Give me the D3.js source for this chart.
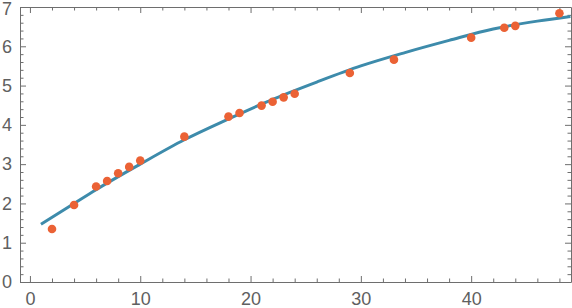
<!DOCTYPE html>
<html>
<head>
<meta charset="utf-8">
<script src="https://cdn.jsdelivr.net/npm/d3@7"></script>
<style>
  body { margin: 0; background: #fff; }
  .axis text { font-family: "Liberation Sans", Arial, sans-serif; font-size: 18px; fill: #606060; }
  .axis path, .axis line { stroke: #6e6e6e; }
</style>
</head>
<body>
<svg id="chart"></svg>
<script>
// measured points
const ptX = [2, 4, 6, 7, 8, 9, 10, 14, 18, 19, 21, 22, 23, 24, 29, 33, 40, 43, 44, 48];
const ptY = [1.35, 1.96, 2.43, 2.57, 2.77, 2.93, 3.09, 3.70, 4.21, 4.30, 4.49, 4.59, 4.70, 4.79, 5.32, 5.66, 6.22, 6.47, 6.52, 6.84];

// fitted curve
const fitX = [1, 4, 6, 10, 14, 18, 22, 26, 30, 34, 38, 42, 46, 49];
const fitY = [1.47, 2.00, 2.35, 3.00, 3.62, 4.15, 4.65, 5.09, 5.50, 5.84, 6.15, 6.44, 6.64, 6.76];

const xTicks = [0, 10, 20, 30, 40];
const yTicks = [0, 1, 2, 3, 4, 5, 6, 7];

const W = 572, H = 308;
const margin = { top: 7, right: 1, bottom: 26, left: 20 };

const svg = d3.select("#chart").attr("width", W).attr("height", H);

const x = d3.scaleLinear().domain([-0.9, 49.05]).range([margin.left, W - margin.right]);
const y = d3.scaleLinear().domain([0, 7]).range([H - margin.bottom, margin.top]);

const xMinor = d3.range(0, 49, 2).filter(v => v % 10 !== 0);
const yMinor = d3.range(0, 7.01, 0.2).map(v => +v.toFixed(1)).filter(v => v % 1 !== 0);

// frame axes: major + minor ticks all pointing inwards
function frame(axisFn, pos, major, minor, labels) {
  const horiz = axisFn === d3.axisBottom || axisFn === d3.axisTop;
  const g = svg.append("g").attr("class", "axis").attr("transform", pos);
  g.call(axisFn(horiz ? x : y)
      .tickValues(major).tickSizeInner(-6).tickSizeOuter(0).tickPadding(axisFn === d3.axisBottom ? 10 : 8)
      .tickFormat(labels ? d3.format("d") : ""));
  const m = svg.append("g").attr("class", "axis").attr("transform", pos);
  m.call(axisFn(horiz ? x : y)
      .tickValues(minor).tickSizeInner(-3.5).tickSizeOuter(0).tickFormat(""));
  m.select(".domain").remove();
  return g;
}

frame(d3.axisBottom, `translate(0,${H - margin.bottom})`, xTicks, xMinor, true);
frame(d3.axisTop, `translate(0,${margin.top})`, xTicks, xMinor, false);
const yAx = frame(d3.axisLeft, `translate(${margin.left},0)`, yTicks, yMinor, true);
frame(d3.axisRight, `translate(${W - margin.right},0)`, yTicks, yMinor, false);

// top label sits right at the edge, nudge it in a bit
yAx.selectAll(".tick text").filter(d => d === 7).attr("dy", "0.4em");

// fit line
const fit = fitX.map((v, i) => ({ x: v, y: fitY[i] }));
svg.append("path")
  .datum(fit)
  .attr("d", d3.line().x(d => x(d.x)).y(d => y(d.y)).curve(d3.curveMonotoneX))
  .attr("fill", "none")
  .attr("stroke", "#3d8bab")
  .attr("stroke-width", 3);

// points
svg.append("g").selectAll("circle")
  .data(ptX.map((v, i) => ({ x: v, y: ptY[i] })))
  .enter().append("circle")
  .attr("cx", d => x(d.x))
  .attr("cy", d => y(d.y))
  .attr("r", 4.3)
  .attr("fill", "#eb6235");
</script>
</body>
</html>
